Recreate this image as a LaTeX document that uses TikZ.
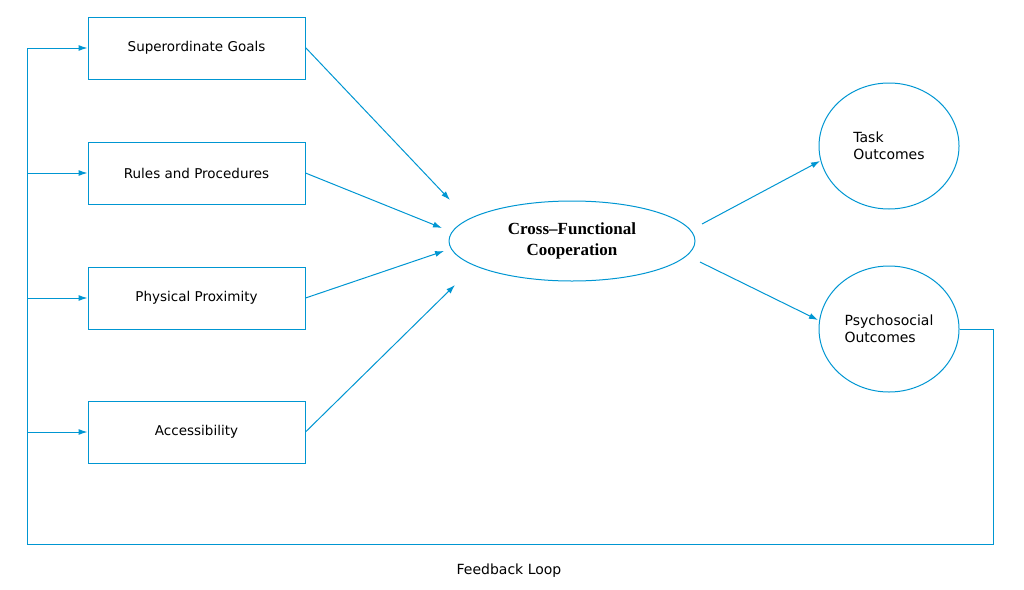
\documentclass[tikz,border=0pt]{standalone}
\usepackage{fontspec}
\setmainfont{DejaVu Sans}
\newfontfamily\serifb{Liberation Serif}
\usetikzlibrary{arrows.meta,shapes.geometric}
\definecolor{lb}{RGB}{0,150,210}
\begin{document}
\begin{tikzpicture}[x=1pt,y=-1pt,
  box/.style={draw=lb,line width=1pt,minimum width=217pt,minimum height=62pt,font=\fontsize{13.5}{16}\selectfont},
  el/.style={draw=lb,line width=1pt,ellipse,font=\fontsize{14}{17}\selectfont,align=left},
  arr/.style={draw=lb,line width=1pt,-{Latex[length=9pt,width=6pt]}},
  ln/.style={draw=lb,line width=1pt}]
\useasboundingbox (0,0) rectangle (1024,589);
\node[box] (b1) at (196.5,48) {Superordinate Goals};
\node[box] (b2) at (196.5,173) {Rules and Procedures};
\node[box] (b3) at (196.5,298) {Physical Proximity};
\node[box] (b4) at (196.5,432) {Accessibility};
\node[el,minimum width=246pt,minimum height=80pt,align=center,font=\serifb\bfseries\fontsize{17}{21}\selectfont] (c) at (572,241) {Cross–Functional\\Cooperation};
\node[el,minimum width=140pt,minimum height=126pt] (t) at (889,146) {Task\\Outcomes};
\node[el,minimum width=140pt,minimum height=126pt] (p) at (889,329) {Psychosocial\\Outcomes};
\coordinate (e1) at (450,200);
\coordinate (e2) at (442,228);
\coordinate (e3) at (444,251);
\coordinate (e4) at (455,285);
\coordinate (s1) at (702,224);
\coordinate (s2) at (700,262);
\coordinate (t1) at (820,161);
\coordinate (p1) at (818,320);
\draw[arr] (b1.north east) ++(0,31) -- (e1);
\draw[arr] (b2.east) -- (e2);
\draw[arr] (b3.east) -- (e3);
\draw[arr] (b4.east) -- (e4);
\draw[arr] (s1) -- (t1);
\draw[arr] (s2) -- (p1);
\coordinate (r) at (993,329);
\coordinate (rb) at (993,544);
\coordinate (lb) at (27,544);
\coordinate (lt) at (27,48);
\draw[ln] (p.east) -- (r) -- (rb) -- (lb) -- (lt);
\draw[arr] (lt) -- (b1.west);
\draw[arr] (27,173) -- (b2.west);
\draw[arr] (27,298) -- (b3.west);
\draw[arr] (27,432) -- (b4.west);
\node[font=\fontsize{14}{17}\selectfont] (fl) at (509,571) {Feedback Loop};
\end{tikzpicture}
\end{document}
